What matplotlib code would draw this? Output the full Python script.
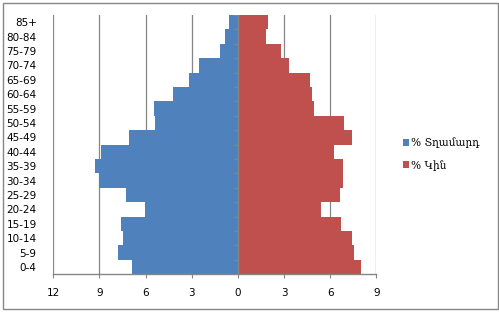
import matplotlib
matplotlib.use("Agg")
import matplotlib.pyplot as plt
from matplotlib.patches import Rectangle
import numpy as np

age_groups = ["0-4", "5-9", "10-14", "15-19", "20-24", "25-29", "30-34", "35-39",
              "40-44", "45-49", "50-54", "55-59", "60-64", "65-69", "70-74",
              "75-79", "80-84", "85+"]
male = [6.86, 7.77, 7.45, 7.62, 6.06, 7.25, 9.06, 9.27, 8.88, 7.10, 5.36, 5.43,
        4.19, 3.19, 2.54, 1.19, 0.85, 0.59]
female = [8.00, 7.53, 7.42, 6.70, 5.39, 6.62, 6.81, 6.83, 6.24, 7.42, 6.87, 4.92,
          4.79, 4.68, 3.31, 2.79, 1.85, 1.94]
x_ticks = [-12, -9, -6, -3, 0, 3, 6, 9]
x_tick_labels = ["12", "9", "6", "3", "0", "3", "6", "9"]
legend_labels = ["% Տղամարդ", "% Կին"]

blue = "#4F81BD"
red = "#C0504D"
grey = "#868686"

fig = plt.figure(figsize=(4.99, 3.32), dpi=100)
fig.patch.set_facecolor("white")
fig.patches.append(Rectangle((2.5 / 499, 1 - 308.5 / 332), 495 / 499, 306 / 332,
                             transform=fig.transFigure, fill=False,
                             edgecolor=grey, linewidth=1.0))

ax = fig.add_axes([53.3 / 499, 1 - 274.3 / 332, 323 / 499, 259.3 / 332])
y = np.arange(len(age_groups))
ax.barh(y, -np.array(male), height=1.0, color=blue, label=legend_labels[0], zorder=2)
ax.barh(y, female, height=1.0, color=red, label=legend_labels[1], zorder=2)

ax.set_xlim(-12, 9)
ax.set_ylim(-0.5, len(age_groups) - 0.5)

for xt in x_ticks:
    if xt != 0:
        ax.axvline(xt, color=grey, linewidth=0.9, zorder=1)
ax.axvline(0, color=grey, linewidth=1.0, zorder=3)
# category tick marks on the vertical axis at zero
for b in np.arange(len(age_groups) + 1) - 0.5:
    ax.plot([-0.27, 0], [b, b], color=grey, linewidth=0.9, zorder=3,
            solid_capstyle="butt")

for s in ["top", "right", "left"]:
    ax.spines[s].set_visible(False)
ax.spines["bottom"].set_color(grey)
ax.spines["bottom"].set_linewidth(1.0)

ax.set_xticks(x_ticks)
ax.set_xticklabels(x_tick_labels)
ax.tick_params(axis="x", direction="out", length=3, color=grey, labelsize=7.5, pad=7)
ax.set_yticks(y)
ax.set_yticklabels(age_groups)
ax.tick_params(axis="y", length=0, labelsize=7.5, pad=12)

leg = fig.legend(loc="center left", bbox_to_anchor=(393 / 499, 1 - 154 / 332),
                 frameon=False, handlelength=0.6, handleheight=0.6,
                 handletextpad=0.2, labelspacing=1.1,
                 prop={"family": ["DejaVu Serif", "DejaVu Sans"], "size": 7.6})

fig.savefig("out.png", dpi=100, facecolor="white")
